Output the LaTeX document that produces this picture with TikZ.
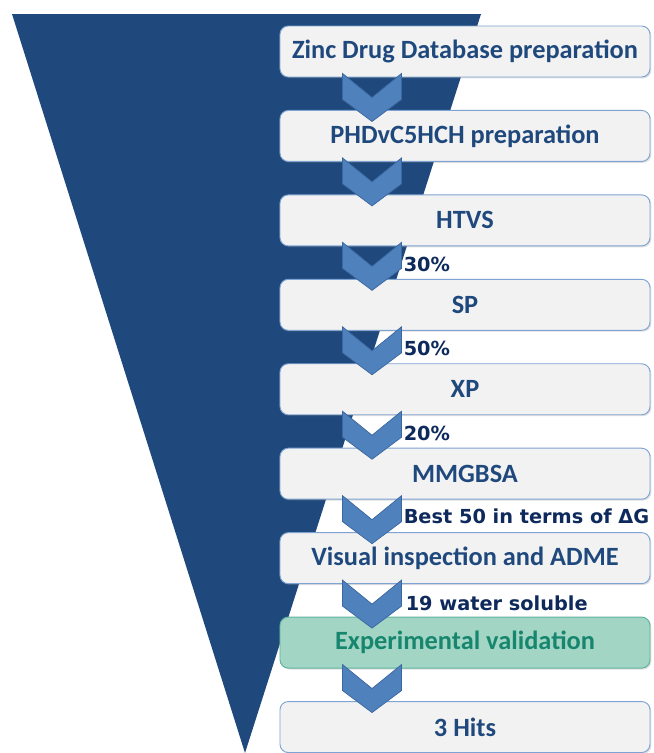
\documentclass[tikz,border=0pt]{standalone}
\usepackage{fontspec}
\setmainfont{Carlito}
\newfontfamily\ratefont{DejaVu Sans}
\usepackage{tikz}
\usetikzlibrary{positioning,calc,shadows}

\definecolor{funnelblue}{HTML}{1F497D}
\definecolor{boxfill}{HTML}{F2F2F2}
\definecolor{boxline}{HTML}{7EA3D2}
\definecolor{stagetext}{HTML}{1F497D}
\definecolor{validfill}{HTML}{A2D5C3}
\definecolor{validline}{HTML}{5FB39E}
\definecolor{validtext}{HTML}{17866F}
\definecolor{chevfill}{HTML}{4F81BD}
\definecolor{chevline}{HTML}{3A679F}
\definecolor{ratetext}{HTML}{0E2A5C}

\begin{document}
\begin{tikzpicture} [
  x=0.03cm, y=-0.03cm,
  node distance=0.975cm,
  stage box/.style= {rectangle,rounded corners=0.25cm,draw=boxline,line width=0.8pt,fill=boxfill,
    minimum width=11.1cm,minimum height=1.53cm,inner sep=0pt,text=stagetext,
    font=\bfseries\fontsize{22.5}{26}\selectfont,
    drop shadow={shadow xshift=1.2pt,shadow yshift=-1.2pt,opacity=0.25}},
  valid box/.style= {stage box,fill=validfill,draw=validline,text=validtext},
  chevron/.style= {fill=chevfill,draw=chevline,line width=0.6pt,line join=miter},
  rate label/.style= {anchor=west,inner sep=0pt,text=ratetext,
    font=\ratefont\bfseries\fontsize{16.5}{19}\selectfont}
]
\useasboundingbox (0,0) rectangle (654,753);

% funnel in the back
\fill[funnelblue] (12,14) -- (481,14) -- (245,753) -- cycle;

% screening stages
\node (S1) [stage box] at (465,51.5) {Zinc Drug Database preparation};
\node (S2) [stage box,below=of S1] {PHDvC5HCH preparation};
\node (S3) [stage box,below=of S2] {HTVS};
\node (S4) [stage box,below=of S3] {SP};
\node (S5) [stage box,below=of S4] {XP};
\node (S6) [stage box,below=of S5] {MMGBSA};
\node (S7) [stage box,below=of S6] {Visual inspection and ADME};
\node (S8) [valid box,below=of S7] {Experimental validation};
\node (S9) [stage box,below=of S8] {3 Hits};

% chevrons between the stages
\foreach \i in {1,...,8} {
  \draw[chevron] ($(S\i.south west)+(63,-4)$) -- ++(29.5,24) -- ++(29.5,-24)
    -- ++(0,26) -- ++(-29.5,22) -- ++(-29.5,-22) -- cycle;
}

% what is kept after each step
\node (R3) [rate label] at ($(S3.south west)+(124,18)$) {30\%};
\node (R4) [rate label] at ($(S4.south west)+(124,18)$) {50\%};
\node (R5) [rate label] at ($(S5.south west)+(124,18)$) {20\%};
\node (R6) [rate label] at ($(S6.south west)+(124,17)$) {Best 50 in terms of ΔG};
\node (R7) [rate label] at ($(S7.south west)+(126,19)$) {19 water soluble};
\end{tikzpicture}
\end{document}
